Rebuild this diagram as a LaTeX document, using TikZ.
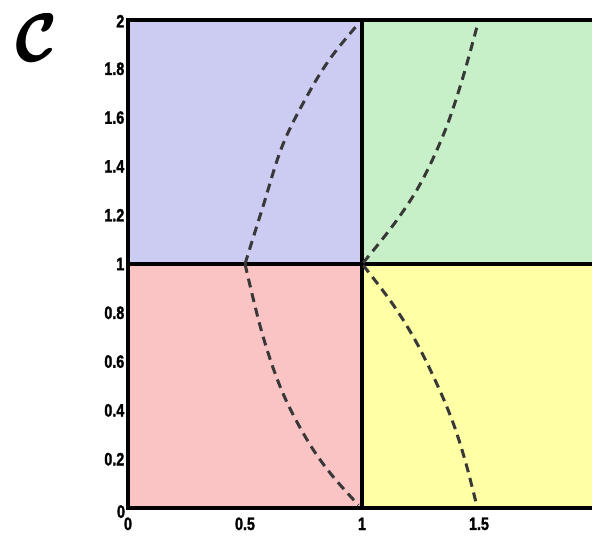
\documentclass[tikz,border=0pt]{standalone}
\usepackage{amsmath}
\usepackage{fontspec}
\newfontfamily\axfont{Liberation Sans}[UprightFont={* Bold}, FakeStretch=0.8, FakeBold=1.5]
\definecolor{cblue}{RGB}{204,204,242}
\definecolor{cred}{RGB}{250,196,196}
\definecolor{cgreen}{RGB}{200,240,200}
\definecolor{cyellow}{RGB}{255,255,165}
\tikzset{
  region/.style={draw=black, line width=3.2bp},
  curve/.style={draw=black!78, line width=3bp, dash pattern=on 9bp off 6bp, smooth, tension=0.6},
  ticklab/.style={inner sep=0pt, font=\axfont\fontsize{18}{18}\selectfont},
  ytick/.style={ticklab, anchor=east},
  xtick/.style={ticklab, anchor=center},
  panellab/.style={inner sep=0pt, xscale=2.5, yscale=2.7, font=\Huge\mathversion{bold}},
}
\begin{document}
\begin{tikzpicture}[x=234bp,y=244bp]
\useasboundingbox (-0.54701,-0.11885) rectangle (1.98291,2.08197);
% regions
\fill[cred] (0,0) rectangle (1,1);
\fill[cblue] (0,1) rectangle (1,2);
\fill[cyellow] (1,0) rectangle (2,1);
\fill[cgreen] (1,1) rectangle (2,2);
\draw[region] (0,0) rectangle (1,1);
\draw[region] (0,1) rectangle (1,2);
\draw[region] (1,0) rectangle (2,1);
\draw[region] (1,1) rectangle (2,2);
% curves
\draw[curve] plot coordinates {(0.5,1) (0.575,1.23) (0.662,1.49) (0.775,1.705) (0.87,1.85) (0.985,1.985)};
\draw[curve] plot coordinates {(0.5,1) (0.575,0.71) (0.66,0.475) (0.765,0.28) (0.865,0.142) (0.985,0.012)};
\draw[curve] plot coordinates {(1.005,1.005) (1.14,1.168) (1.25,1.33) (1.35,1.535) (1.425,1.745) (1.492,1.975)};
\draw[curve] plot coordinates {(1.005,0.995) (1.128,0.84) (1.226,0.69) (1.312,0.525) (1.385,0.36) (1.44,0.197) (1.49,0.012)};
% y ticks
\node[ytick] (y0) at (-0.012,-0.015) {0};
\node[ytick] (y02) at (-0.015,0.2) {0.2};
\node[ytick] (y04) at (-0.015,0.4) {0.4};
\node[ytick] (y06) at (-0.015,0.6) {0.6};
\node[ytick] (y08) at (-0.015,0.8) {0.8};
\node[ytick] (y1) at (-0.015,1) {1};
\node[ytick] (y12) at (-0.015,1.2) {1.2};
\node[ytick] (y14) at (-0.015,1.4) {1.4};
\node[ytick] (y16) at (-0.015,1.6) {1.6};
\node[ytick] (y18) at (-0.015,1.8) {1.8};
\node[ytick] (y2) at (-0.015,1.995) {2};
% x ticks
\node[xtick] (x0) at (0,-0.065) {0};
\node[xtick] (x05) at (0.5,-0.065) {0.5};
\node[xtick] (x1) at (1,-0.065) {1};
\node[xtick] (x15) at (1.5,-0.065) {1.5};
\node[xtick] (x2) at (2.005,-0.065) {2};
% panel label
\node[panellab] (lab) at (-0.392,1.928) {$\mathcal{C}$};
\node[panellab] (lab2) at (-0.388,1.928) {$\mathcal{C}$};
\node[panellab] (lab3) at (-0.390,1.924) {$\mathcal{C}$};
\end{tikzpicture}
\end{document}
